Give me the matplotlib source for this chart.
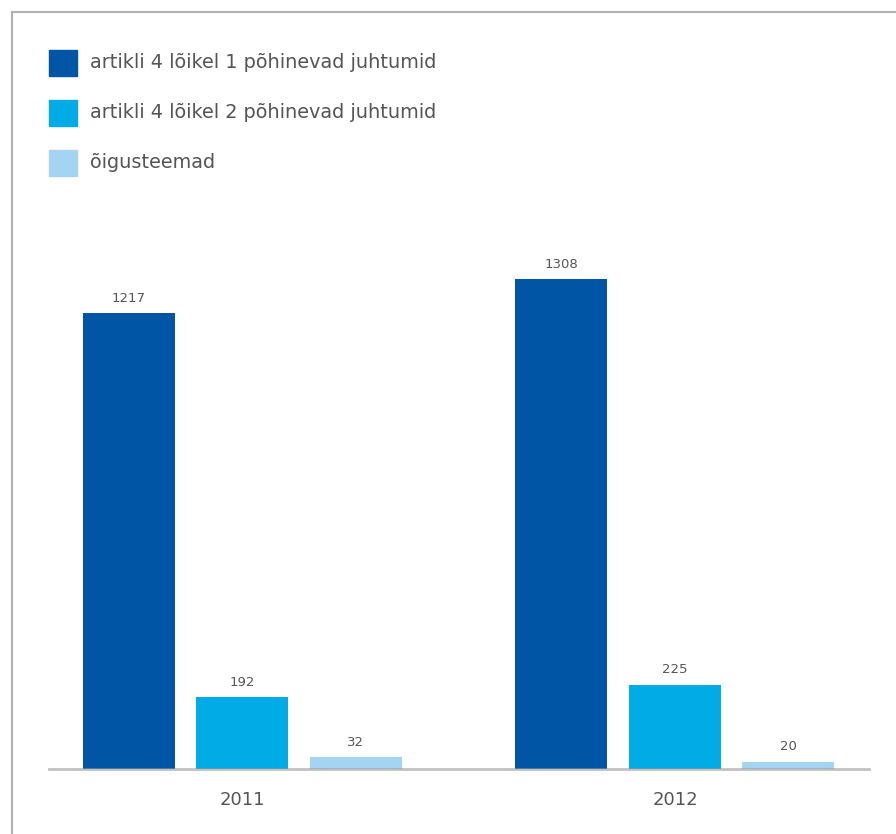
import numpy as np
import matplotlib.pyplot as plt
from matplotlib.lines import Line2D
from matplotlib.patches import Rectangle

# data
years = ['2011', '2012']
series_names = ['artikli 4 lõikel 1 põhinevad juhtumid',
                'artikli 4 lõikel 2 põhinevad juhtumid',
                'õigusteemad']
lg1 = [1217, 1308]
lg2 = [192, 225]
legal = [32, 20]
colors = ['#0055a4', '#00abe6', '#a3d5f3']
text_col = '#555555'

W, H = 896, 834
fig = plt.figure(figsize=(W / 100, H / 100), dpi=100)

# axes placed in pixel coords
left, right, bottom, top = 49, 869, 769, 200
ax = fig.add_axes([left / W, 1 - bottom / H, (right - left) / W, (bottom - top) / H])

x = np.arange(len(years))
width = 0.2127
step = 0.2624
for i, vals in enumerate([lg1, lg2, legal]):
    pos = x + (i - 1) * step
    bars = ax.bar(pos, vals, width, color=colors[i], zorder=2)
    for b, v in zip(bars, vals):
        ax.text(b.get_x() + b.get_width() / 2, v + 22, str(v), ha='center', va='bottom',
                fontsize=9.5, color=text_col)

ax.set_xlim(-0.447, 1.4486)
ax.set_ylim(0, (bottom - top) / 0.3747)
ax.axhline(0, color='#999999', alpha=0.6, lw=2, zorder=3, clip_on=False)
for s in ax.spines.values():
    s.set_visible(False)
ax.set_yticks([])
ax.set_xticks(x)
ax.set_xticklabels(years, fontsize=13, color=text_col)
ax.tick_params(axis='x', length=0, pad=16)

# legend drawn by hand
for i, name in enumerate(series_names):
    yc = 63 + i * 50
    fig.patches.append(Rectangle((49 / W, 1 - (yc + 13) / H), 28 / W, 26 / H,
                                 transform=fig.transFigure, color=colors[i]))
    fig.text(90 / W, 1 - yc / H, name, fontsize=13.9, color=text_col, va='center')

# frame lines on top and left
fig.add_artist(Line2D([12 / W, 12 / W], [0, 1 - 12 / H], color='#b3b3b3', lw=1.5))
fig.add_artist(Line2D([12 / W, 1], [1 - 12 / H, 1 - 12 / H], color='#b3b3b3', lw=1.5))

plt.savefig('out.png', dpi=100)
